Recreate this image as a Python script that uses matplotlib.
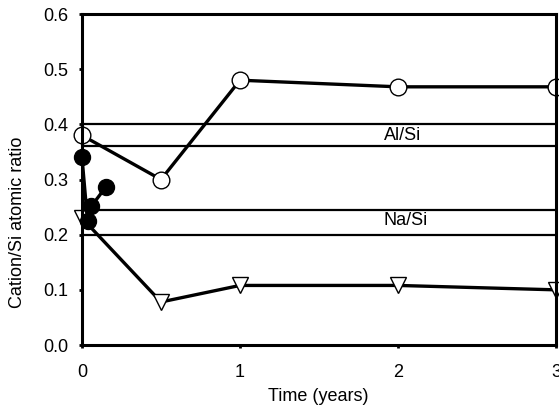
import matplotlib
matplotlib.use("Agg")
import matplotlib.pyplot as plt

plt.rcParams["font.family"] = ["Liberation Sans", "DejaVu Sans"]

# open circles
t_open = [0, 0.5, 1, 2, 3]
r_open = [0.38, 0.30, 0.48, 0.468, 0.468]

# open triangles
t_tri = [0, 0.5, 1, 2, 3]
r_tri = [0.23, 0.078, 0.108, 0.108, 0.10]

# filled circles
t_fill = [0, 0.035, 0.06, 0.15]
r_fill = [0.34, 0.225, 0.252, 0.286]

# reference bands
al_si = [0.36, 0.40]
na_si = [0.20, 0.245]

xticks = [0, 1, 2, 3]
yticks = [0.0, 0.1, 0.2, 0.3, 0.4, 0.5, 0.6]


def main():
    fig = plt.figure(figsize=(5.59, 4.07), dpi=100)
    ax = fig.add_axes([0.1467, 0.1523, 0.8479, 0.8133])

    for y in al_si + na_si:
        ax.axhline(y, color="black", linewidth=1.6, zorder=1)

    ax.text(1.91, sum(al_si) / 2, "Al/Si", fontsize=13, va="center", ha="left")
    ax.text(1.91, sum(na_si) / 2 + 0.003, "Na/Si", fontsize=13, va="center", ha="left")

    ax.plot(t_open, r_open, color="black", linewidth=2.4, marker="o",
            markersize=12, markerfacecolor="white", markeredgewidth=1.0,
            clip_on=False, zorder=3)
    ax.plot(t_tri, r_tri, color="black", linewidth=2.4, marker="v",
            markersize=11, markerfacecolor="white", markeredgewidth=1.0,
            clip_on=False, zorder=3)
    ax.plot(t_fill, r_fill, color="black", linewidth=2.4, marker="o",
            markersize=11.5, markerfacecolor="black", clip_on=False, zorder=4)

    ax.set_xlim(0, 3)
    ax.set_ylim(0, 0.6)
    ax.set_xticks(xticks)
    ax.set_yticks(yticks)
    ax.set_yticklabels([f"{v:.1f}" for v in yticks])

    for s in ax.spines.values():
        s.set_linewidth(2.2)
        s.set_zorder(5)

    ax.tick_params(axis="both", direction="out", length=2, width=2,
                   labelsize=13)
    ax.tick_params(axis="x", pad=12)
    ax.tick_params(axis="y", pad=8)

    ax.set_xlabel("Time (years)", fontsize=13)
    ax.xaxis.set_label_coords(0.498, -0.131)
    ax.set_ylabel("Cation/Si atomic ratio", fontsize=13)
    ax.yaxis.set_label_coords(-0.118, 0.372)

    fig.savefig("out.png", dpi=100)
    plt.close(fig)


if __name__ == "__main__":
    main()
